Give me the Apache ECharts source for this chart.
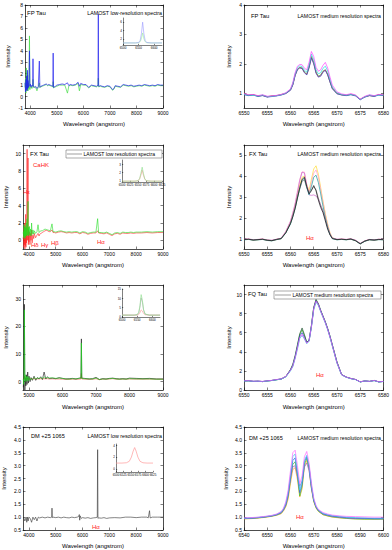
<!DOCTYPE html>
<html><head><meta charset="utf-8">
<script src="https://cdn.jsdelivr.net/npm/echarts@6/dist/echarts.min.js"></script>
<style>html,body{margin:0;padding:0;background:#fff}#c{width:392px;height:550px}</style>
</head><body><div id="c"></div>
<script>
// ---------- tick labels ----------
const lowTicksA = [4000,5000,6000,7000,8000,9000];
const fqLowTicks = [5000,6000,7000,8000,9000];
const medTicks = [6550,6555,6560,6565,6570,6575,6580];
const dmMedTicks = [6540,6550,6560,6570,6580,6590,6600];
const fpLowYTicks = [-1,0,1,2,3,4,5,6,7,8];
const fpMedYTicks = [1,2,3,4];
const fxLowYTicks = [0,2,4,6,8,10];
const fxMedYTicks = [1,2,3,4,5];
const fqLowYTicks = [0,10,20,30];
const fqMedYTicks = [0,2,4,6,8,10];
const dmYTicks = [0.5,1.0,1.5,2.0,2.5,3.0,3.5,4.0,4.5];

// ---------- FP Tau low resolution ----------
const fpLowX = [3800,3820,3835,3850,3865,3880,3890,3900,3915,3930,
 3950,3968,3985,4000,4030,4060,4090,4101,4115,4150,
 4200,4250,4300,4340,4360,4400,4450,4500,4550,4600,
 4650,4700,4750,4800,4850,4861,4875,4900,4950,5000,
 5100,5200,5300,5400,5450,5500,5600,5700,5800,5850,
 5900,6000,6100,6200,6300,6400,6500,6550,6563,6575,
 6650,6700,6800,6900,7000,7100,7150,7200,7300,7400,
 7500,7600,7700,7800,7900,8000,8100,8200,8300,8400,
 8500,8600,8700,8800,8900,9000];
const fpLowBlue = [1.2,0.4,1.5,0.6,1.8,0.5,2.3,0.7,1.4,0.8,
 1.3,4.0,0.9,1.1,0.8,1.0,0.9,3.3,0.9,0.8,
 0.9,0.7,0.85,3.1,0.8,0.9,0.95,1.0,1.05,1.1,
 1.0,1.05,1.0,0.95,0.9,3.8,0.8,0.8,0.9,1.0,
 1.05,1.1,1.05,1.2,0.95,1.05,1.0,1.05,1.25,0.9,
 1.15,1.05,1.05,0.8,1.0,0.95,0.9,1.0,7.2,0.9,
 0.95,0.9,0.85,0.95,0.9,0.6,0.7,0.95,0.9,0.85,
 1.05,1.0,0.95,1.0,0.9,0.95,1.0,0.95,1.05,1.0,
 0.95,1.0,0.95,1.05,1.0,1.0];
const fpLowGreen = [0.8,1.6,0.3,2.5,0.5,1.7,0.6,1.9,0.5,1.2,
 0.7,5.3,0.6,1.0,0.9,0.7,0.9,1.5,0.8,0.85,
 0.8,0.5,0.85,1.2,0.8,0.85,0.9,0.95,1.0,1.05,
 0.95,1.0,0.95,0.9,0.85,1.3,0.75,0.8,0.85,0.9,
 1.0,1.0,1.0,0.3,0.9,1.0,0.95,1.0,1.15,0.5,
 1.05,1.0,1.0,0.75,0.95,0.9,0.85,0.95,1.6,0.85,
 0.9,0.85,0.8,0.9,0.85,0.55,0.65,0.9,0.85,0.8,
 1.0,0.95,0.9,0.95,0.85,0.9,0.95,0.9,1.0,0.95,
 0.9,0.95,0.9,1.0,0.95,0.95];
const fpInsetX = [6500,6520,6540,6550,6555,6559,6563,6567,6571,6576,6590,6610,6625];
const fpInsetBlue = [1,1,1,1.1,1.6,3.2,6.0,3.2,1.6,1.1,1,1,1];
const fpInsetGreen = [1,1,1,1.05,1.3,2.0,3.4,2.0,1.3,1.05,1,1,1];

// ---------- medium resolution wavelength grid (FP, FX, FQ) ----------
const medX = [6550,6551,6552,6553,6554,6555,6556,6557,6558,6559,
 6560,6560.5,6561,6561.5,6562,6562.5,6563,6563.5,6564,6564.5,
 6565,6565.5,6566,6566.5,6567,6567.5,6568,6568.5,6569,6570,
 6571,6572,6573,6574,6575,6576,6577,6578,6579,6580];

// FP Tau medium
const fpMedGreen = [0.97,0.93,0.95,0.9,0.93,0.88,0.9,0.92,0.95,1.0,1.12,1.3,1.62,1.82,1.88,1.86,1.72,1.65,1.9,2.25,2.05,1.72,1.58,1.62,1.75,1.8,1.65,1.4,1.18,1.0,0.95,0.93,0.96,0.92,0.79,0.88,0.93,0.9,0.95,0.93];
const fpMedMagenta = [0.99,0.95,0.96,0.92,0.95,0.9,0.91,0.93,0.96,1.02,1.15,1.36,1.7,1.92,1.98,1.97,1.85,1.8,2.05,2.42,2.25,1.88,1.75,1.8,1.95,2.05,1.86,1.55,1.28,1.05,0.98,0.95,0.99,0.94,0.8,0.9,0.95,0.92,0.96,0.95];
const fpMedCyan = [0.96,0.94,0.93,0.91,0.94,0.89,0.9,0.92,0.95,1.01,1.13,1.33,1.66,1.87,1.93,1.91,1.78,1.72,1.97,2.33,2.14,1.8,1.66,1.7,1.85,1.92,1.76,1.48,1.22,1.02,0.96,0.94,0.96,0.93,0.79,0.88,0.94,0.91,0.94,0.94];
const fpMedBlue = [0.95,0.92,0.94,0.89,0.92,0.87,0.89,0.91,0.94,0.99,1.1,1.28,1.6,1.8,1.86,1.84,1.7,1.62,1.86,2.2,2.0,1.68,1.55,1.58,1.72,1.78,1.62,1.38,1.15,0.98,0.94,0.92,0.95,0.91,0.78,0.87,0.92,0.89,0.94,0.92];
const fpMedRed = [0.98,0.94,0.95,0.91,0.93,0.88,0.92,0.92,0.96,1.0,1.11,1.29,1.61,1.81,1.87,1.85,1.71,1.64,1.88,2.22,2.02,1.7,1.56,1.6,1.74,1.79,1.64,1.39,1.17,0.99,0.95,0.93,0.97,0.92,0.8,0.88,0.92,0.9,0.96,0.93];

// ---------- FX Tau low resolution ----------
const fxLowX = [3785,3800,3810,3820,3830,3840,3850,3860,3870,3880,
 3890,3900,3910,3920,3933,3945,3955,3968,3980,3990,
 4000,4020,4040,4060,4080,4101,4120,4150,4180,4200,
 4250,4300,4340,4380,4400,4450,4500,4550,4600,4650,
 4700,4750,4800,4861,4900,4950,5000,5100,5200,5300,
 5400,5500,5600,5700,5800,5900,6000,6100,6200,6300,
 6400,6500,6563,6600,6700,6800,6900,7000,7100,7200,
 7300,7400,7500,7600,7700,7800,7900,8000,8200,8400,
 8600,8800,9000];
const fxLowRed = [0.2,0.5,-0.8,1.5,-0.5,2.0,-1.0,1.2,-0.6,3.0,
 -0.8,1.5,-0.3,2.5,10.5,0.0,2.5,9.5,-0.5,1.2,
 -0.2,1.0,-0.5,0.8,0.0,1.2,-0.3,0.6,0.2,0.8,
 0.3,0.6,0.8,0.5,0.7,0.8,0.9,1.0,1.1,1.15,
 1.1,1.0,1.0,1.2,0.9,0.9,0.85,0.95,1.0,0.95,
 0.85,0.9,0.85,0.9,0.9,0.75,0.9,0.85,0.7,0.8,
 0.85,0.85,1.1,0.85,0.8,0.75,0.85,0.7,0.55,0.75,
 0.8,0.7,0.85,0.8,0.8,0.85,0.8,0.85,0.85,0.9,
 0.85,0.9,0.9];
const fxLowGreen = [0.8,1.0,0.3,1.8,0.5,1.5,0.2,1.6,0.4,1.4,
 0.6,2.0,0.5,1.7,2.5,0.6,1.8,4.5,0.5,1.5,
 0.7,1.6,0.6,1.3,0.5,2.0,0.7,1.2,0.7,1.1,
 0.8,1.0,1.8,0.9,1.0,1.1,1.1,1.2,1.3,1.25,
 1.2,1.15,1.1,1.9,1.0,1.0,0.95,1.05,1.1,1.0,
 0.95,1.0,0.95,1.0,1.0,0.85,1.0,0.95,0.8,0.9,
 0.95,0.95,2.5,0.9,0.9,0.85,0.95,0.8,0.65,0.85,
 0.9,0.8,0.95,0.9,0.9,0.95,0.9,0.95,0.95,1.0,
 0.95,1.0,1.0];
const fxInsetX = [6500,6525,6540,6550,6555,6559,6563,6567,6571,6576,6590,6610,6625];
const fxInsetGreen = [1,1,1,1.05,1.3,1.9,2.65,1.9,1.3,1.05,1,1,1];
const fxInsetRed = [1,1,1,1.04,1.25,1.7,2.3,1.7,1.25,1.04,1,1,1];

// FX Tau medium
const fxMedBlack = [0.95,0.97,0.93,0.95,0.97,0.92,0.9,0.96,1.0,1.28,1.72,2.05,2.45,2.95,3.45,3.85,3.95,3.5,3.15,3.3,3.55,3.3,2.85,2.5,2.25,1.85,1.45,1.18,1.0,0.95,0.97,0.95,0.98,0.9,0.75,0.88,0.95,0.93,0.96,0.95];
const fxMedGray = [0.96,0.96,0.94,0.95,0.96,0.93,0.91,0.95,1.01,1.3,1.75,2.1,2.5,3.0,3.4,3.75,3.82,3.45,3.2,3.35,3.5,3.35,2.95,2.6,2.35,1.95,1.5,1.2,1.02,0.96,0.96,0.95,0.97,0.91,0.76,0.89,0.94,0.93,0.95,0.95];
const fxMedTeal = [0.94,0.96,0.92,0.94,0.96,0.91,0.89,0.95,0.99,1.27,1.7,2.05,2.45,2.95,3.4,3.8,3.9,3.45,3.1,3.5,3.95,4.05,3.7,3.15,2.55,2.0,1.55,1.2,1.0,0.94,0.96,0.94,0.97,0.89,0.74,0.87,0.94,0.92,0.95,0.94];
const fxMedPink = [0.96,0.98,0.94,0.96,0.98,0.93,0.91,0.97,1.02,1.35,1.85,2.25,2.7,3.3,3.85,4.2,4.2,3.6,3.2,3.7,4.15,4.3,3.95,3.35,2.75,2.15,1.65,1.25,1.03,0.96,0.98,0.96,0.99,0.91,0.76,0.89,0.96,0.94,0.97,0.96];
const fxMedYellow = [0.95,0.97,0.93,0.95,0.97,0.92,0.9,0.96,1.0,1.3,1.78,2.15,2.55,3.1,3.6,3.95,4.0,3.6,3.3,3.85,4.35,4.5,4.1,3.45,2.8,2.2,1.7,1.28,1.04,0.95,0.97,0.95,0.98,0.9,0.75,0.88,0.95,0.93,0.96,0.95];
const fxMedPurple = [0.97,0.98,0.95,0.96,0.98,0.93,0.92,0.97,1.02,1.33,1.82,2.2,2.65,3.2,3.8,4.2,4.15,3.55,3.1,3.08,3.1,3.05,2.9,2.6,2.3,1.95,1.55,1.22,1.03,0.97,0.98,0.96,0.99,0.92,0.77,0.89,0.96,0.94,0.97,0.96];

// ---------- FQ Tau low resolution ----------
const fqLowX = [4830,4845,4861,4875,4890,4905,4920,4940,4960,4980,
 5000,5030,5060,5100,5150,5200,5250,5300,5350,5400,
 5450,5500,5550,5600,5700,5800,5900,6000,6100,6200,
 6300,6400,6500,6550,6563,6575,6650,6800,6900,7000,
 7100,7200,7300,7400,7500,7600,7700,7800,7900,8000,
 8200,8400,8600,8800,9000];
const fqLowBlack = [-2,2,28,-3,1.5,-1.5,2.5,-1,3.5,-0.5,
 2,0,1.5,0.5,2,0.5,1.5,1,1.8,0.8,
 3.5,1.0,1.8,1.2,1.3,1.1,1.5,1.2,1.0,1.1,
 1.2,1.0,1.3,1.4,15.5,1.3,1.2,1.0,1.1,1.6,
 0.8,1.1,1.0,1.2,1.3,1.1,1.0,1.1,1.0,1.3,
 1.2,1.1,1.2,1.0,1.0];
const fqLowGreen = [1,-1,26,0.5,2.5,0,1.8,0.5,2,0.3,
 1.5,0.6,1.2,0.8,1.5,1.0,1.3,1.2,1.5,1.0,
 1.8,1.2,1.5,1.3,1.4,1.2,1.3,1.2,1.0,0.9,
 1.1,1.0,1.2,1.3,14,1.2,1.1,1.0,1.0,1.3,
 0.8,1.0,0.9,1.1,1.2,1.0,0.9,1.0,0.9,1.1,
 1.0,1.0,1.0,0.9,0.9];
const fqLowRed = [0.9,1.1,2.0,0.8,1.2,0.9,1.1,0.9,1.2,0.9,
 1.1,0.9,1.0,1.0,1.1,1.0,1.05,1.0,1.1,1.0,
 1.1,1.05,1.1,1.0,1.05,1.0,1.0,0.95,0.9,0.85,
 0.95,0.9,0.95,1.0,3.0,1.0,0.95,0.9,0.9,1.1,
 0.75,0.95,0.9,1.0,1.1,0.95,0.9,0.95,0.9,1.0,
 0.95,0.95,0.95,0.9,0.9];
const fqInsetX = [6500,6520,6540,6550,6555,6559,6563,6567,6571,6576,6590,6610,6625];
const fqInsetGreen = [1,1,1,1.3,2.5,6,12,9,4,1.6,1,1,1];
const fqInsetGray = [1,1,1,1.2,2.2,5.2,10.2,8,3.6,1.5,1,1,1];
const fqInsetRed = [1,1,1,1.05,1.4,2.3,3.8,3.2,1.9,1.2,1,1,1];

// FQ Tau medium
const fqMedGreen = [0.95,0.97,0.9,0.92,0.88,0.95,1.0,1.08,1.15,1.4,2.1,2.6,3.5,4.6,5.8,6.3,5.7,5.0,5.2,6.7,8.6,9.4,9.0,8.3,7.7,7.1,6.4,5.6,4.7,2.9,1.6,1.35,1.2,1.1,0.85,0.95,0.9,1.0,0.85,0.9];
const fqMedMagenta = [0.96,0.98,0.92,0.93,0.9,0.96,1.01,1.1,1.17,1.42,2.05,2.5,3.35,4.4,5.5,5.8,5.4,4.9,5.15,6.6,8.5,9.3,8.95,8.25,7.65,7.05,6.35,5.55,4.65,2.85,1.6,1.35,1.2,1.1,0.86,0.95,0.9,1.0,0.86,0.9];
const fqMedCyan = [0.94,0.96,0.9,0.91,0.88,0.94,0.99,1.07,1.14,1.38,2.0,2.45,3.3,4.3,5.4,5.7,5.35,4.85,5.1,6.55,8.4,9.2,8.85,8.2,7.6,7.0,6.3,5.5,4.6,2.8,1.58,1.33,1.18,1.08,0.84,0.94,0.89,0.98,0.84,0.89];
const fqMedBlue = [0.95,0.96,0.91,0.92,0.89,0.95,1.0,1.08,1.15,1.4,2.08,2.55,3.45,4.5,5.65,6.0,5.5,4.95,5.15,6.65,8.55,9.35,8.95,8.3,7.7,7.1,6.4,5.6,4.7,2.9,1.6,1.35,1.2,1.1,0.85,0.95,0.9,1.0,0.85,0.9];
const fqMedDark = [0.95,0.97,0.9,0.92,0.88,0.95,1.0,1.08,1.15,1.42,2.15,2.7,3.6,4.75,5.9,6.5,5.8,5.0,5.2,6.75,8.65,9.5,9.05,8.35,7.75,7.15,6.45,5.65,4.75,2.95,1.62,1.36,1.2,1.1,0.85,0.95,0.9,1.0,0.85,0.9];

// ---------- DM +25 1065 low resolution ----------
const dmLowX = [3800,3850,3900,3920,3950,3970,4000,4050,4100,4150,
 4200,4250,4300,4350,4400,4500,4600,4700,4800,4850,
 4861,4875,4900,5000,5100,5200,5300,5400,5500,5600,
 5700,5800,5850,5880,5895,5910,5950,6000,6100,6200,
 6300,6400,6500,6550,6563,6575,6600,6700,6800,6900,
 7000,7200,7400,7600,7800,8000,8200,8400,8450,8498,
 8520,8600,8800,9000];
const dmLowY = [1.0,0.85,1.0,0.8,1.0,0.85,1.0,0.95,0.8,1.0,
 0.9,1.0,0.85,1.0,0.97,1.0,0.97,1.0,0.98,1.0,
 1.35,0.98,1.0,0.98,1.0,0.97,1.0,0.98,0.97,1.0,
 0.98,1.0,1.02,1.1,0.88,1.05,0.95,0.98,0.96,0.98,
 0.95,0.97,0.98,1.0,3.62,0.95,0.97,0.96,0.98,0.95,
 0.97,0.98,0.97,1.0,1.0,0.98,1.0,1.0,0.97,1.25,
 0.97,1.0,1.0,1.0];
const dmInsetX = [6500,6520,6535,6545,6552,6558,6563,6568,6574,6581,6591,6605,6625];
const dmInsetY = [1.0,1.0,1.05,1.3,2.0,3.0,3.6,3.0,2.0,1.3,1.05,1.0,1.0];

// DM +25 1065 medium
const dmMedX = [6540,6543,6546,6549,6552,6554,6556,6557,6558,6559,6560,6561,6562,6563,6564,6565,6566,6567,6568,6569,6570,6571,6572,6574,6576,6578,6581,6584,6588,6592,6596,6600];
const dmMedPink = [0.97,0.98,1.0,1.03,1.07,1.12,1.22,1.35,1.6,2.05,2.8,3.5,3.6,3.0,2.3,2.6,3.35,3.55,3.1,2.35,1.75,1.45,1.3,1.18,1.12,1.08,1.05,1.03,1.02,1.01,1.0,1.0];
const dmMedCyan = [0.96,0.97,0.99,1.02,1.06,1.11,1.2,1.32,1.55,1.95,2.65,3.35,3.45,2.8,2.05,2.4,3.2,3.4,3.0,2.25,1.7,1.42,1.28,1.15,1.1,1.06,1.03,1.0,0.98,0.97,0.96,0.96];
const dmMedBlue = [0.95,0.96,0.98,1.01,1.05,1.1,1.18,1.3,1.5,1.9,2.55,3.2,3.3,2.7,1.95,2.3,3.15,3.35,2.95,2.2,1.66,1.4,1.26,1.13,1.08,1.04,1.01,0.98,0.96,0.95,0.94,0.94];
const dmMedGreen = [0.94,0.95,0.97,1.0,1.04,1.08,1.15,1.27,1.45,1.8,2.45,3.05,3.15,2.6,1.82,2.2,3.05,3.28,2.9,2.15,1.62,1.37,1.23,1.1,1.05,1.01,0.98,0.95,0.93,0.92,0.92,0.92];
const dmMedOrange = [0.93,0.94,0.96,0.99,1.03,1.07,1.13,1.24,1.4,1.7,2.3,2.85,2.92,2.45,1.78,2.1,2.95,3.2,2.85,2.1,1.6,1.35,1.22,1.09,1.04,1.0,0.97,0.95,0.93,0.92,0.92,0.93];
const dmMedPurple = [0.95,0.96,0.98,1.01,1.05,1.09,1.17,1.28,1.48,1.85,2.5,2.95,3.0,2.6,2.2,2.4,2.95,3.1,2.8,2.15,1.65,1.4,1.26,1.12,1.07,1.03,1.0,0.97,0.95,0.95,0.94,0.94];

// ---------- build ----------
const FONT = 'Liberation Sans, Arial, sans-serif';
const grids = [], xAxes = [], yAxes = [], series = [], graphics = [];
const XNAME = 'Wavelength (angstrom)', YNAME = 'Intensity';
const plain = v => String(v);
const f1 = v => v.toFixed(1);

function addPanel(p) {
  const g = grids.length;
  grids.push({left: p.left, top: p.top, width: p.width, height: p.height});
  const inset = !!p.inset;
  const aLine = {show: true, onZero: false, lineStyle: {color: '#000', width: inset ? 0.5 : 0.7}};
  const tick = (vals) => ({show: true, inside: true, length: inset ? 1.2 : 2.5, customValues: vals, lineStyle: {color: '#000', width: 0.5}});
  const lab = (vals, fmt) => ({show: true, customValues: vals, fontSize: inset ? 3 : 5, margin: inset ? 1 : 2, color: '#000', fontFamily: FONT, formatter: fmt || plain});
  const nts = {fontSize: 6, fontFamily: FONT, color: '#000'};
  const xi = xAxes.length;
  xAxes.push({type: 'value', gridIndex: g, position: 'bottom', min: p.xmin, max: p.xmax,
    axisLine: aLine, axisTick: tick(p.xticks), axisLabel: lab(p.xticks, p.xfmt), splitLine: {show: false},
    name: inset ? '' : XNAME, nameLocation: 'middle', nameGap: p.xgap || 13, nameTextStyle: nts});
  if (!inset) xAxes.push({type: 'value', gridIndex: g, position: 'top', min: p.xmin, max: p.xmax,
    axisLine: aLine, axisTick: tick(p.xticks), axisLabel: {show: false}, splitLine: {show: false}});
  const yi = yAxes.length;
  yAxes.push({type: 'value', gridIndex: g, position: 'left', min: p.ymin, max: p.ymax,
    axisLine: aLine, axisTick: tick(p.yticks), axisLabel: lab(p.yticks, p.yfmt), splitLine: {show: false},
    name: inset ? '' : YNAME, nameLocation: 'middle', nameGap: p.ygap || 16, nameTextStyle: nts});
  if (!inset) yAxes.push({type: 'value', gridIndex: g, position: 'right', min: p.ymin, max: p.ymax,
    axisLine: aLine, axisTick: tick(p.yticks), axisLabel: {show: false}, splitLine: {show: false}});
  p.series.forEach(s => series.push({type: 'line', xAxisIndex: xi, yAxisIndex: yi,
    data: s.x.map((v, i) => [v, s.y[i]]), showSymbol: false, symbol: 'none',
    lineStyle: {color: s.c, width: s.w || 0.7}, itemStyle: {color: s.c}, animation: false, silent: true, z: 2}));
}

// Row 1
addPanel({left: 25, top: 5, width: 138, height: 103, xmin: 3800, xmax: 9000, xticks: lowTicksA,
  ymin: -1, ymax: 8, yticks: fpLowYTicks, ygap: 14, xgap: 13,
  series: [{x: fpLowX, y: fpLowGreen, c: '#44dd44'}, {x: fpLowX, y: fpLowBlue, c: '#2222ee'}]});
addPanel({inset: true, left: 123, top: 18, width: 39, height: 27, xmin: 6500, xmax: 6625, xticks: [6500,6550,6600],
  ymin: 0.5, ymax: 7, yticks: [2,4,6],
  series: [{x: fpInsetX, y: fpInsetGreen, c: '#99ee99', w: 0.6}, {x: fpInsetX, y: fpInsetBlue, c: '#9999ff', w: 0.6}]});
addPanel({left: 244, top: 5, width: 141, height: 103, xmin: 6550, xmax: 6580, xticks: medTicks,
  ymin: 0.5, ymax: 4, yticks: fpMedYTicks, ygap: 12, xgap: 13,
  series: [{x: medX, y: fpMedGreen, c: '#22aa22'}, {x: medX, y: fpMedRed, c: '#ee4444'},
    {x: medX, y: fpMedBlue, c: '#3344cc'}, {x: medX, y: fpMedCyan, c: '#22dddd'}, {x: medX, y: fpMedMagenta, c: '#ff44ff'}]});

// Row 2
addPanel({left: 23, top: 145, width: 140, height: 104, xmin: 3780, xmax: 9000, xticks: lowTicksA,
  ymin: -1, ymax: 11, yticks: fxLowYTicks, ygap: 14, xgap: 13,
  series: [{x: fxLowX, y: fxLowRed, c: '#ff2222', w: 0.6}, {x: fxLowX, y: fxLowGreen, c: '#22dd22', w: 0.6}]});
addPanel({inset: true, left: 122, top: 160, width: 40, height: 22, xmin: 6500, xmax: 6625, xticks: [6500,6525,6550,6575,6600,6625],
  ymin: 0.9, ymax: 3.5, yticks: [1,2,3],
  series: [{x: fxInsetX, y: fxInsetRed, c: '#ff9999', w: 0.6}, {x: fxInsetX, y: fxInsetGreen, c: '#88dd88', w: 0.6}]});
addPanel({left: 244, top: 145, width: 141, height: 104, xmin: 6550, xmax: 6580, xticks: medTicks,
  ymin: 0.5, ymax: 5.5, yticks: fxMedYTicks, ygap: 12, xgap: 13,
  series: [{x: medX, y: fxMedYellow, c: '#ffdd33'}, {x: medX, y: fxMedPink, c: '#ff99cc'},
    {x: medX, y: fxMedPurple, c: '#cc66cc'}, {x: medX, y: fxMedTeal, c: '#1a9a9a'},
    {x: medX, y: fxMedGray, c: '#888888'}, {x: medX, y: fxMedBlack, c: '#111111'}]});

// Row 3
addPanel({left: 23, top: 285, width: 140, height: 105, xmin: 4820, xmax: 9000, xticks: fqLowTicks,
  ymin: -3, ymax: 35, yticks: fqLowYTicks, ygap: 14, xgap: 14,
  series: [{x: fqLowX, y: fqLowRed, c: '#ee3333', w: 0.6}, {x: fqLowX, y: fqLowBlack, c: '#111111', w: 0.6}, {x: fqLowX, y: fqLowGreen, c: '#22dd22', w: 0.6}]});
addPanel({inset: true, left: 122, top: 289, width: 38, height: 28, xmin: 6500, xmax: 6625, xticks: [6500,6550,6600],
  ymin: 0, ymax: 15, yticks: [0,5,10,15],
  series: [{x: fqInsetX, y: fqInsetRed, c: '#ff9999', w: 0.6}, {x: fqInsetX, y: fqInsetGray, c: '#aaaaaa', w: 0.6}, {x: fqInsetX, y: fqInsetGreen, c: '#88dd88', w: 0.6}]});
addPanel({left: 244, top: 285, width: 141, height: 105, xmin: 6550, xmax: 6580, xticks: medTicks,
  ymin: 0, ymax: 11, yticks: fqMedYTicks, ygap: 12, xgap: 14,
  series: [{x: medX, y: fqMedGreen, c: '#22aa22'}, {x: medX, y: fqMedDark, c: '#225533'},
    {x: medX, y: fqMedBlue, c: '#3344cc'}, {x: medX, y: fqMedCyan, c: '#22dddd'}, {x: medX, y: fqMedMagenta, c: '#ff44ff'}]});

// Row 4
addPanel({left: 23, top: 427, width: 140, height: 105, xmin: 3780, xmax: 9000, xticks: lowTicksA,
  ymin: 0.5, ymax: 4.5, yticks: dmYTicks, yfmt: f1, ygap: 16, xgap: 13,
  series: [{x: dmLowX, y: dmLowY, c: '#333333', w: 0.6}]});
addPanel({inset: true, left: 116, top: 444, width: 37, height: 28, xmin: 6500, xmax: 6625, xticks: [6500,6525,6550,6575,6600,6625],
  ymin: -0.5, ymax: 4.2, yticks: [0,2,4],
  series: [{x: dmInsetX, y: dmInsetY, c: '#ff9999', w: 0.7}]});
addPanel({left: 244, top: 427, width: 141, height: 105, xmin: 6540, xmax: 6600, xticks: dmMedTicks,
  ymin: 0.5, ymax: 4.5, yticks: dmYTicks, yfmt: f1, ygap: 15, xgap: 13,
  series: [{x: dmMedX, y: dmMedOrange, c: '#ffaa22'}, {x: dmMedX, y: dmMedGreen, c: '#33bb33'},
    {x: dmMedX, y: dmMedPurple, c: '#9966cc'}, {x: dmMedX, y: dmMedBlue, c: '#3355dd'},
    {x: dmMedX, y: dmMedCyan, c: '#33ccee'}, {x: dmMedX, y: dmMedPink, c: '#ff66ff'}]});

// ---------- annotations ----------
function txt(t, x, y, opt) {
  opt = opt || {};
  graphics.push({type: 'text', x: x, y: y, z: 100, style: {text: t, fontSize: opt.s || 5.4, fill: opt.c || '#000',
    fontFamily: FONT, align: opt.a || 'left', verticalAlign: 'middle'}});
}
function legendBox(x1, y1, x2, y2, lx1, lx2, label, s) {
  graphics.push({type: 'rect', z: 99, shape: {x: x1, y: y1, width: x2 - x1, height: y2 - y1}, style: {fill: '#fff', stroke: '#555', lineWidth: 0.5}});
  graphics.push({type: 'line', z: 100, shape: {x1: lx1, y1: (y1 + y2) / 2, x2: lx2, y2: (y1 + y2) / 2}, style: {stroke: '#bbbbbb', lineWidth: 1.4}});
  txt(label, lx2 + 1.5, (y1 + y2) / 2 + 0.3, {s: s});
}
const RED = '#ff2020';
txt('FP Tau', 27, 13, {s: 6});
txt('LAMOST low-resolution spectra', 162, 13, {a: 'right', s: 5.3});
txt('FP Tau', 251, 16, {s: 5.8});
txt('LAMOST medium resolution spectra', 381, 16, {a: 'right', s: 5.2});

txt('FX Tau', 30, 154, {s: 6});
legendBox(66, 150, 162, 158, 67, 82, 'LAMOST low resolution spectra', 5.1);
txt('CaHK', 33, 165, {s: 6, c: RED});
txt('H\u03b5', 23, 192, {s: 6, c: RED});
txt('H\u03b4', 31, 245, {s: 6, c: RED});
txt('H\u03b3', 41, 245, {s: 6, c: RED});
txt('H\u03b2', 51, 243, {s: 6, c: RED});
txt('H\u03b1', 97, 242, {s: 6, c: RED});
txt('FX Tau', 249, 154, {s: 5.8});
txt('LAMOST medium resolution spectra', 381, 154, {a: 'right', s: 5.2});
txt('H\u03b1', 306, 238, {s: 6, c: RED});

txt('FQ Tau', 248, 294, {s: 5.8});
legendBox(274, 291, 381, 299, 275, 291, 'LAMOST medium resolution spectra', 5.0);
txt('H\u03b1', 316, 375, {s: 6, c: RED});

txt('DM +25 1065', 31, 436, {s: 5.6});
txt('LAMOST low resolution spectra', 162, 436, {a: 'right', s: 5.3});
txt('H\u03b1', 92, 527, {s: 6, c: RED});
txt('DM +25 1065', 249, 438, {s: 5.6});
txt('LAMOST medium resolution spectra', 381, 438, {a: 'right', s: 5.2});
txt('H\u03b1', 296, 517, {s: 6, c: RED});

const chart = echarts.init(document.getElementById('c'), null, {renderer: 'svg'});
chart.setOption({
  backgroundColor: '#fff',
  animation: false,
  grid: grids, xAxis: xAxes, yAxis: yAxes, series: series,
  graphic: {elements: graphics}
});
</script></body></html>
